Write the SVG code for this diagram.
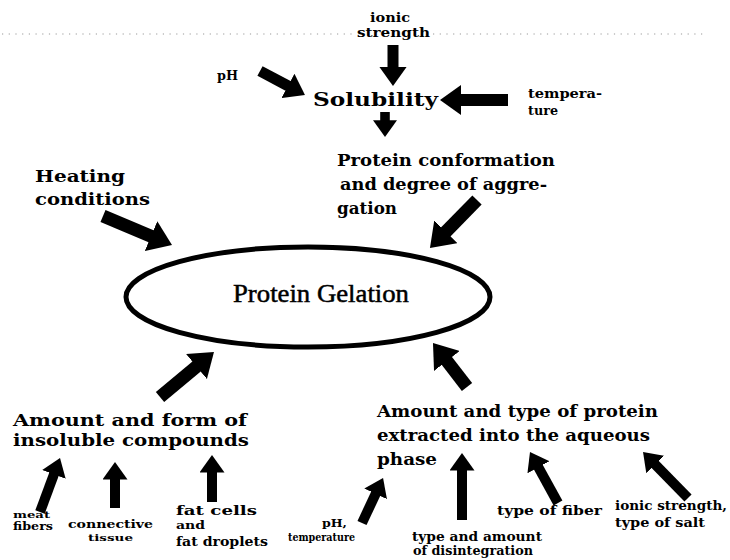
<svg xmlns="http://www.w3.org/2000/svg" width="730" height="560" viewBox="0 0 730 560">
<style>
.lb{font-family:"DejaVu Serif","Liberation Serif",serif;font-weight:bold;fill:#000}
.main{font-family:"Liberation Serif","Times New Roman",serif;font-size:26px;fill:#000;stroke:#000;stroke-width:0.5}
.ar{stroke:#000;fill:none;stroke-linecap:butt;marker-end:url(#h)}
.dots{stroke:#9a9a9a;stroke-width:1.2;stroke-dasharray:1.2 5.5;fill:none}
</style>
<defs>
<marker id="h" viewBox="0 0 7 10" refX="1" refY="5" markerWidth="1.75" markerHeight="2.5" orient="auto" markerUnits="strokeWidth">
<path d="M0,0 L7,5 L0,10 z" fill="#000"/>
</marker>
</defs>
<rect width="730" height="560" fill="#fff"/>
<g id="rule">
<line class="dots" x1="2" y1="34" x2="355" y2="34"/>
<line class="dots" x1="433" y1="34" x2="706" y2="34"/>
</g>
<g id="connectors">
<line class="ar" x1="393" y1="45" x2="393" y2="69.5" stroke-width="11"/>
<line class="ar" x1="260" y1="71" x2="290.4" y2="87.2" stroke-width="11"/>
<line class="ar" x1="508" y1="100" x2="458" y2="100" stroke-width="12"/>
<line class="ar" x1="385" y1="112" x2="385" y2="122.6" stroke-width="9.6"/>
<line class="ar" x1="477" y1="200" x2="443.6" y2="234.1" stroke-width="13"/>
<line class="ar" x1="103" y1="216" x2="154" y2="237.4" stroke-width="13"/>
<line class="ar" x1="160" y1="397" x2="199" y2="364.5" stroke-width="13"/>
<line class="ar" x1="467" y1="387" x2="444.9" y2="358.4" stroke-width="13"/>
<line class="ar" x1="40" y1="512" x2="54.8" y2="472.1" stroke-width="10"/>
<line class="ar" x1="115" y1="508" x2="115" y2="477" stroke-width="10"/>
<line class="ar" x1="212" y1="502" x2="212" y2="470" stroke-width="10"/>
<line class="ar" x1="362" y1="523" x2="376.7" y2="491.6" stroke-width="10"/>
<line class="ar" x1="462" y1="520" x2="462" y2="468" stroke-width="10"/>
<line class="ar" x1="558" y1="503" x2="537.2" y2="465.1" stroke-width="10"/>
<line class="ar" x1="688" y1="498" x2="653.5" y2="462.7" stroke-width="10"/>
</g>
<g id="gelation">
<ellipse cx="308" cy="297" rx="182" ry="50" fill="none" stroke="#000" stroke-width="5"/>
<text class="main" x="233" y="302" textLength="176" lengthAdjust="spacingAndGlyphs">Protein Gelation</text>
</g>
<g id="ionic-strength">
<text class="lb" font-size="12" x="370" y="22" textLength="40" lengthAdjust="spacingAndGlyphs">ionic</text>
<text class="lb" font-size="12" x="357" y="37" textLength="73" lengthAdjust="spacingAndGlyphs">strength</text>
</g>
<g id="ph-top">
<text class="lb" font-size="13" x="217" y="80" textLength="21" lengthAdjust="spacingAndGlyphs">pH</text>
</g>
<g id="solubility">
<text class="lb" font-size="18" x="313" y="106" textLength="125" lengthAdjust="spacingAndGlyphs">Solubility</text>
</g>
<g id="temperature-top">
<text class="lb" font-size="12" x="528" y="98" textLength="74" lengthAdjust="spacingAndGlyphs">tempera-</text>
<text class="lb" font-size="12" x="528" y="115" textLength="30" lengthAdjust="spacingAndGlyphs">ture</text>
</g>
<g id="conformation">
<text class="lb" font-size="16" x="337" y="166" textLength="218" lengthAdjust="spacingAndGlyphs">Protein conformation</text>
<text class="lb" font-size="16" x="340" y="190" textLength="207" lengthAdjust="spacingAndGlyphs">and degree of aggre-</text>
<text class="lb" font-size="16" x="337" y="214" textLength="60" lengthAdjust="spacingAndGlyphs">gation</text>
</g>
<g id="heating">
<text class="lb" font-size="16" x="35" y="182" textLength="90" lengthAdjust="spacingAndGlyphs">Heating</text>
<text class="lb" font-size="16" x="35" y="205" textLength="115" lengthAdjust="spacingAndGlyphs">conditions</text>
</g>
<g id="insoluble">
<text class="lb" font-size="17" x="13" y="426" textLength="234" lengthAdjust="spacingAndGlyphs">Amount and form of</text>
<text class="lb" font-size="17" x="13" y="446" textLength="236" lengthAdjust="spacingAndGlyphs">insoluble compounds</text>
</g>
<g id="meat-fibers">
<text class="lb" font-size="10" x="13" y="518" textLength="37" lengthAdjust="spacingAndGlyphs">meat</text>
<text class="lb" font-size="11" x="13" y="530" textLength="40" lengthAdjust="spacingAndGlyphs">fibers</text>
</g>
<g id="connective-tissue">
<text class="lb" font-size="10.5" x="68" y="528" textLength="85" lengthAdjust="spacingAndGlyphs">connective</text>
<text class="lb" font-size="9.5" x="88" y="541" textLength="45" lengthAdjust="spacingAndGlyphs">tissue</text>
</g>
<g id="fat">
<text class="lb" font-size="13" x="176" y="515" textLength="81" lengthAdjust="spacingAndGlyphs">fat cells</text>
<text class="lb" font-size="11" x="176" y="529" textLength="29" lengthAdjust="spacingAndGlyphs">and</text>
<text class="lb" font-size="12" x="176" y="546" textLength="92" lengthAdjust="spacingAndGlyphs">fat droplets</text>
</g>
<g id="extracted">
<text class="lb" font-size="16" x="377" y="417" textLength="281" lengthAdjust="spacingAndGlyphs">Amount and type of protein</text>
<text class="lb" font-size="16" x="377" y="441" textLength="273" lengthAdjust="spacingAndGlyphs">extracted into the aqueous</text>
<text class="lb" font-size="16" x="377" y="465" textLength="60" lengthAdjust="spacingAndGlyphs">phase</text>
</g>
<g id="ph-temperature">
<text class="lb" font-size="11" x="322" y="527" textLength="25" lengthAdjust="spacingAndGlyphs">pH,</text>
<text class="lb" font-size="11" x="288" y="541" textLength="67" lengthAdjust="spacingAndGlyphs">temperature</text>
</g>
<g id="disintegration">
<text class="lb" font-size="12" x="412" y="541" textLength="130" lengthAdjust="spacingAndGlyphs">type and amount</text>
<text class="lb" font-size="12" x="413" y="555" textLength="120" lengthAdjust="spacingAndGlyphs">of disintegration</text>
</g>
<g id="fiber-type">
<text class="lb" font-size="12" x="497" y="515" textLength="105" lengthAdjust="spacingAndGlyphs">type of fiber</text>
</g>
<g id="salt">
<text class="lb" font-size="12" x="615" y="510" textLength="112" lengthAdjust="spacingAndGlyphs">ionic strength,</text>
<text class="lb" font-size="12" x="615" y="527" textLength="90" lengthAdjust="spacingAndGlyphs">type of salt</text>
</g>
</svg>
